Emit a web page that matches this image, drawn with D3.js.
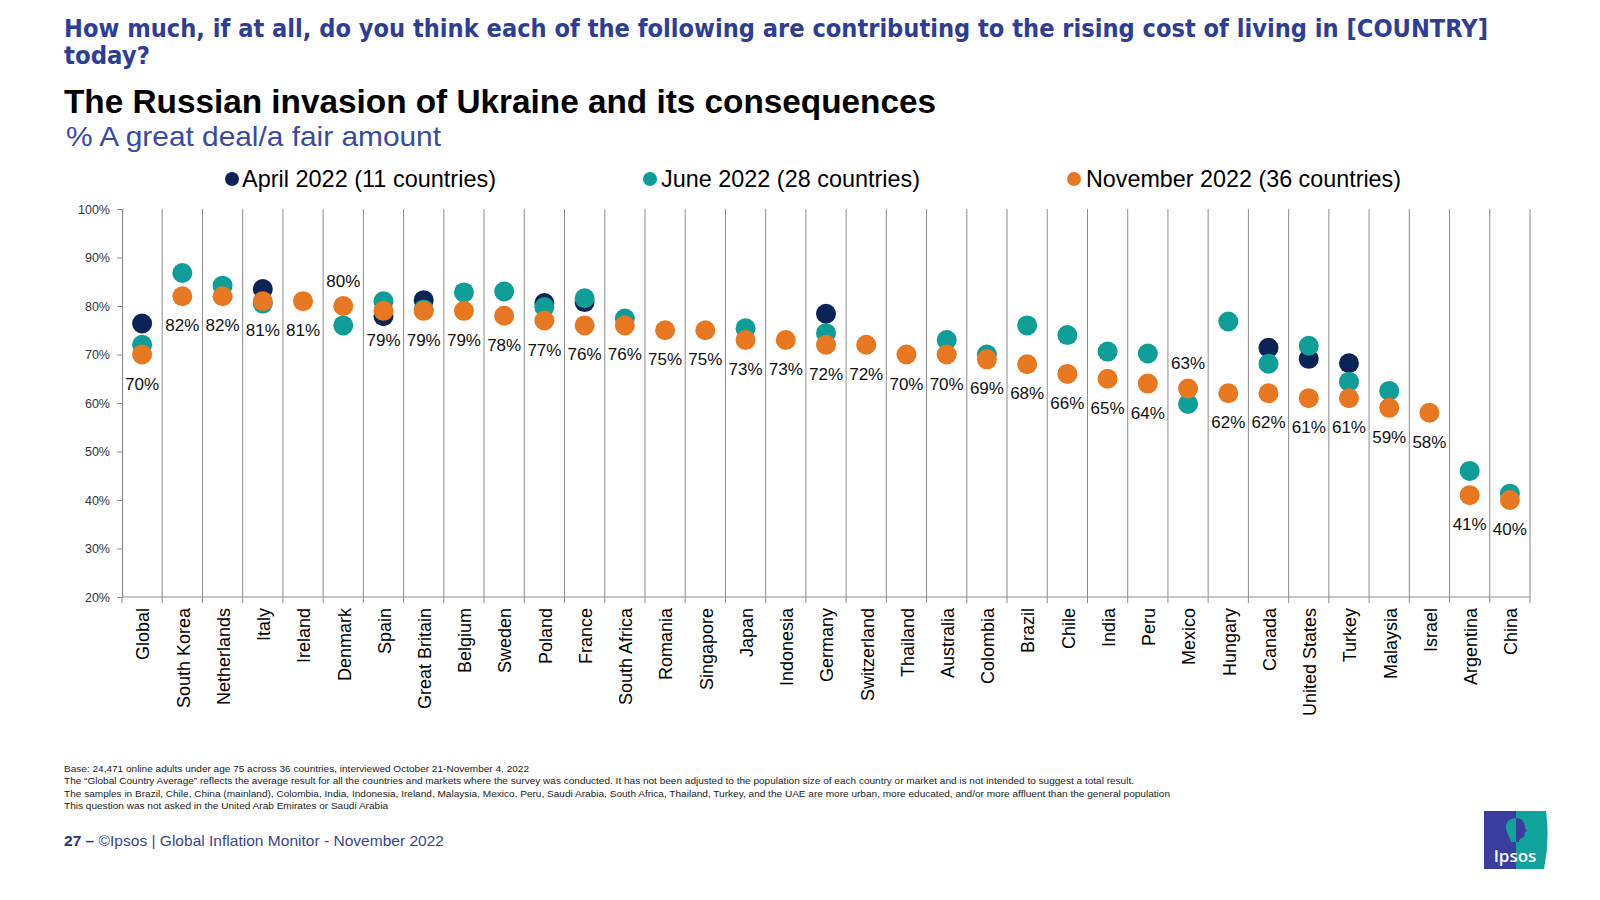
<!DOCTYPE html>
<html>
<head>
<meta charset="utf-8">
<script src="https://cdn.jsdelivr.net/npm/d3@7"></script>
<style>
  html, body { margin: 0; padding: 0; background: #fff; }
  svg { display: block; font-family: "Liberation Sans", Arial, sans-serif; }
</style>
</head>
<body>
<svg id="chart" width="1600" height="900"></svg>
<script>
// ---------- data ----------
const categories = ["Global","South Korea","Netherlands","Italy","Ireland","Denmark","Spain","Great Britain","Belgium","Sweden","Poland","France","South Africa","Romania","Singapore","Japan","Indonesia","Germany","Switzerland","Thailand","Australia","Colombia","Brazil","Chile","India","Peru","Mexico","Hungary","Canada","United States","Turkey","Malaysia","Israel","Argentina","China"];

const april2022 = [76.4,null,null,83.5,null,null,77.9,81.2,null,null,80.6,80.8,null,null,null,null,null,78.4,null,null,null,null,null,null,null,null,null,null,71.4,69.1,68.2,null,null,null,null];

const june2022 = [72,86.8,84.2,80.5,null,76,81,79.3,82.8,83,79.8,81.6,77.4,null,null,75.4,null,74.4,null,null,73,70,76,74,70.6,70.2,59.8,76.8,68.1,71.8,64.4,62.5,null,46,41.3];

const november2022 = [70,82,82,81,81,80,79,79,79,78,77,76,76,75,75,73,73,72,72,70,70,69,68,66,65,64,63,62,62,61,61,59,58,41,40];

const seriesNames = ["April 2022 (11 countries)","June 2022 (28 countries)","November 2022 (36 countries)"];
const yTicks = [20,30,40,50,60,70,80,90,100];

const questionLines = ["How much, if at all, do you think each of the following are contributing to the rising cost of living in [COUNTRY]","today?"];
const titleText = "The Russian invasion of Ukraine and its consequences";
const subtitleText = "% A great deal/a fair amount";
const footnotes = [
  "Base: 24,471 online adults under age 75 across 36 countries, interviewed October 21-November 4, 2022",
  "The \u201CGlobal Country Average\u201D reflects the average result for all the countries and markets where the survey was conducted. It has not been adjusted to the population size of each country or market and is not intended to suggest a total result.",
  "The samples in Brazil, Chile, China (mainland), Colombia, India, Indonesia, Ireland, Malaysia, Mexico, Peru, Saudi Arabia, South Africa, Thailand, Turkey, and the UAE are more urban, more educated, and/or more affluent than the general population",
  "This question was not asked in the United Arab Emirates or Saudi Arabia"
];

// ---------- drawing ----------
const colors = ["#0c2455", "#0f9d98", "#e87722"];
const svg = d3.select("#chart");

// Header
const qFont = "'DejaVu Sans Condensed', 'Liberation Sans Narrow', Arial, sans-serif";
svg.append("text").attr("x", 64).attr("y", 37)
  .attr("font-family", qFont)
  .attr("font-weight", "bold").attr("font-size", 25).attr("fill", "#2f3d97")
  .attr("textLength", 1424).attr("lengthAdjust", "spacingAndGlyphs")
  .text(questionLines[0]);
svg.append("text").attr("x", 64).attr("y", 64)
  .attr("font-family", qFont)
  .attr("font-weight", "bold").attr("font-size", 25).attr("fill", "#2f3d97")
  .attr("textLength", 86).attr("lengthAdjust", "spacingAndGlyphs")
  .text(questionLines[1]);

svg.append("text").attr("x", 64).attr("y", 113)
  .attr("font-weight", "bold").attr("font-size", 33).attr("fill", "#000")
  .attr("textLength", 872).attr("lengthAdjust", "spacingAndGlyphs")
  .text(titleText);
svg.append("text").attr("x", 66).attr("y", 146)
  .attr("font-size", 28).attr("fill", "#3a4aa3")
  .attr("textLength", 375).attr("lengthAdjust", "spacingAndGlyphs")
  .text(subtitleText);

// Legend
const legendPos = [{dot: 232, tx: 242, w: 254}, {dot: 650, tx: 661, w: 259}, {dot: 1074, tx: 1086, w: 315}];
seriesNames.forEach((s, i) => {
  svg.append("circle").attr("cx", legendPos[i].dot).attr("cy", 179).attr("r", 7).attr("fill", colors[i]);
  svg.append("text").attr("x", legendPos[i].tx).attr("y", 187)
    .attr("font-size", 24).attr("fill", "#000")
    .attr("textLength", legendPos[i].w).attr("lengthAdjust", "spacingAndGlyphs")
    .text(s);
});

// Scales
const x = d3.scaleBand().domain(categories).range([122, 1530]).paddingInner(0).paddingOuter(0);
const y = d3.scaleLinear().domain([20, 100]).range([597, 209]);
const grid = "#8c8c8c";

// vertical gridlines at band boundaries
const g = svg.append("g");
categories.forEach(c => {
  const bx = x(c) + x.bandwidth();
  g.append("line").attr("x1", bx).attr("x2", bx).attr("y1", y(100)).attr("y2", y(20) + 6)
    .attr("stroke", grid).attr("stroke-width", 1);
});
g.append("line").attr("x1", x.range()[0]).attr("x2", x.range()[1]).attr("y1", y(20)).attr("y2", y(20))
  .attr("stroke", grid).attr("stroke-width", 1.2);
g.append("line").attr("x1", x.range()[0]).attr("x2", x.range()[0]).attr("y1", y(20)).attr("y2", y(20) + 6)
  .attr("stroke", grid);

// Y axis
const yAxis = svg.append("g").attr("transform", `translate(${x.range()[0]},0)`)
  .call(d3.axisLeft(y).tickValues(yTicks).tickFormat(d => d + "%").tickSize(5).tickPadding(7));
yAxis.select(".domain").attr("stroke", grid).attr("stroke-width", 1.2);
yAxis.selectAll(".tick line").attr("stroke", grid);
yAxis.selectAll(".tick text").attr("font-size", 12.5).attr("fill", "#333")
  .attr("font-family", "'Liberation Sans', Arial, sans-serif");

// X labels
const xl = svg.append("g");
categories.forEach(c => {
  const cx = x(c) + x.bandwidth() / 2;
  xl.append("text")
    .attr("transform", `translate(${cx + 1},608) rotate(-90)`)
    .attr("text-anchor", "end").attr("dy", "0.35em")
    .attr("font-size", 18).attr("fill", "#000")
    .text(c);
});

// Dots
const series = [april2022, june2022, november2022];
series.forEach((arr, si) => {
  svg.append("g").selectAll("circle")
    .data(categories.map((c, i) => ({c, v: arr[i]})).filter(d => d.v != null))
    .join("circle")
    .attr("cx", d => x(d.c) + x.bandwidth() / 2)
    .attr("cy", d => y(d.v))
    .attr("r", 10)
    .attr("fill", colors[si]);
});

// Data labels (November)
svg.append("g").selectAll("text")
  .data(categories.map((c, i) => ({c, v: november2022[i], j: june2022[i]})))
  .join("text")
  .attr("x", d => x(d.c) + x.bandwidth() / 2)
  .attr("y", d => (d.j != null && d.j < d.v - 2) ? y(d.v) - 19 : y(d.v) + 35)
  .attr("text-anchor", "middle")
  .attr("font-size", 17).attr("fill", "#111")
  .text(d => d3.format(".0f")(d.v) + "%");

// Footnotes
const fnW = [465, 1070, 1106, 324];
footnotes.forEach((t, i) => {
  svg.append("text").attr("x", 64).attr("y", 772 + i * 12.3)
    .attr("font-size", 9).attr("fill", "#222")
    .attr("textLength", fnW[i]).attr("lengthAdjust", "spacingAndGlyphs")
    .text(t);
});

// Footer
const ft = svg.append("text").attr("x", 64).attr("y", 846).attr("font-size", 15)
  .attr("textLength", 380).attr("lengthAdjust", "spacingAndGlyphs");
ft.append("tspan").attr("font-weight", "bold").attr("fill", "#27357a").text("27 \u2013 ");
ft.append("tspan").attr("fill", "#3a4688").text(" \u00A9Ipsos | Global Inflation Monitor - November 2022");

// Logo
const lg = svg.append("g").attr("transform", "translate(1484,811)");
lg.append("rect").attr("x", 0).attr("y", 0).attr("width", 33).attr("height", 58).attr("fill", "#3b3d9e");
lg.append("path").attr("d", "M32,0 L62,0 Q66,29 60,58 L32,58 Z").attr("fill", "#11a29b");
lg.append("path").attr("d", "M32,7 C25,7 21,12 22,18 C23,23 26,26 27,31 L32,31 Z").attr("fill", "#11a29b");
lg.append("path").attr("d", "M32,7 C38,7 41,11 41,17 L43,20 L41,21 C40,24 41,26 38,27 C36,27 35,29 35,31 L32,31 Z")
  .attr("fill", "#3b3d9e");
lg.append("text").attr("x", 31).attr("y", 51).attr("text-anchor", "middle")
  .attr("font-family", "'Open Sans', 'Liberation Sans', sans-serif").attr("font-weight", "600")
  .attr("font-size", 17).attr("fill", "#fff").text("Ipsos");
</script>
</body>
</html>
